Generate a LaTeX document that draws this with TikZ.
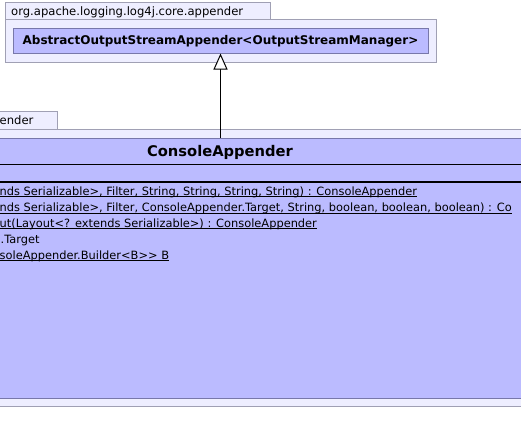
\documentclass[tikz,border=0pt]{standalone}
\usepackage{fontspec}
\setmainfont{DejaVu Sans}[Ligatures=NoCommon]
\usetikzlibrary{arrows.meta}
\definecolor{pkgfill}{RGB}{238,238,255}
\definecolor{pkgline}{RGB}{160,160,180}
\definecolor{clsfill}{RGB}{187,187,255}
\definecolor{clsline}{RGB}{120,120,170}
\newcommand{\ulmember}[1]{\underline{\smash{#1}}}
\tikzset{
  pkgbox/.style={draw=pkgline, fill=pkgfill, line width=1pt},
  clsbox/.style={draw=clsline, fill=clsfill, line width=1pt, inner sep=0pt},
  tablabel/.style={anchor=west, inner sep=0pt, font=\fontsize{11.6}{13}\selectfont},
  member/.style={anchor=base west, inner sep=0pt, font=\fontsize{11.4}{13}\selectfont},
  clsname/.style={inner sep=0pt, font=\bfseries\fontsize{14.7}{16}\selectfont},
  absname/.style={inner sep=0pt, font=\bfseries\fontsize{12}{14}\selectfont},
  inherit/.style={draw=black, line width=1pt, -{Triangle[open, width=14pt, length=16pt, fill=white]}}
}
\begin{document}
\begin{tikzpicture}[x=1pt,y=-1pt]
\useasboundingbox (0,0) rectangle (521,444);
\clip (0,0) rectangle (521,444);
\fill[white] (0,0) rectangle (521,444);
% top package
\draw[pkgbox] (5,3) rectangle (270,20);
\draw[pkgbox] (5,20) rectangle (436,62);
\node[tablabel] (tab1) at (11,12) {org.apache.logging.log4j.core.appender};
\node[clsbox, minimum width=415pt, minimum height=24pt] (abs) at (220.5,41) {};
\node[absname] (absn) at (abs.center) {AbstractOutputStreamAppender<OutputStreamManager>};
% second package
\draw[pkgbox] (-5,111) rectangle (57,129);
\draw[pkgbox] (-5,129) rectangle (530,406);
\node[tablabel] (tab2) at (-0.5,120) {ender};
% class ConsoleAppender
\node[clsbox, minimum width=640pt, minimum height=260pt] (con) at (220,268) {};
\node[clsname] (conn) at (220,152) {ConsoleAppender};
\draw[black, line width=1pt] (-5,164) -- (530,164);
\draw[black, line width=2pt] (-5,182) -- (530,182);
\node[member] (m1) at (-0.5,195) {\ulmember{nds Serializable>, Filter, String, String, String, String) : ConsoleAppender}};
\node[member] (m2) at (-0.5,211.5) {\ulmember{nds Serializable>, Filter, ConsoleAppender.Target, String, boolean, boolean, boolean) : Co}};
\node[member] (m3) at (-0.5,227) {\ulmember{ut(Layout<? extends Serializable>) : ConsoleAppender}};
\node[member] (m4) at (0.5,243) {.Target};
\node[member] (m5) at (-0.5,259) {\ulmember{soleAppender.Builder<B>{}> B}};
% inheritance
\draw[inherit] (con.north -| abs.south) -- (abs.south);
\end{tikzpicture}
\end{document}
